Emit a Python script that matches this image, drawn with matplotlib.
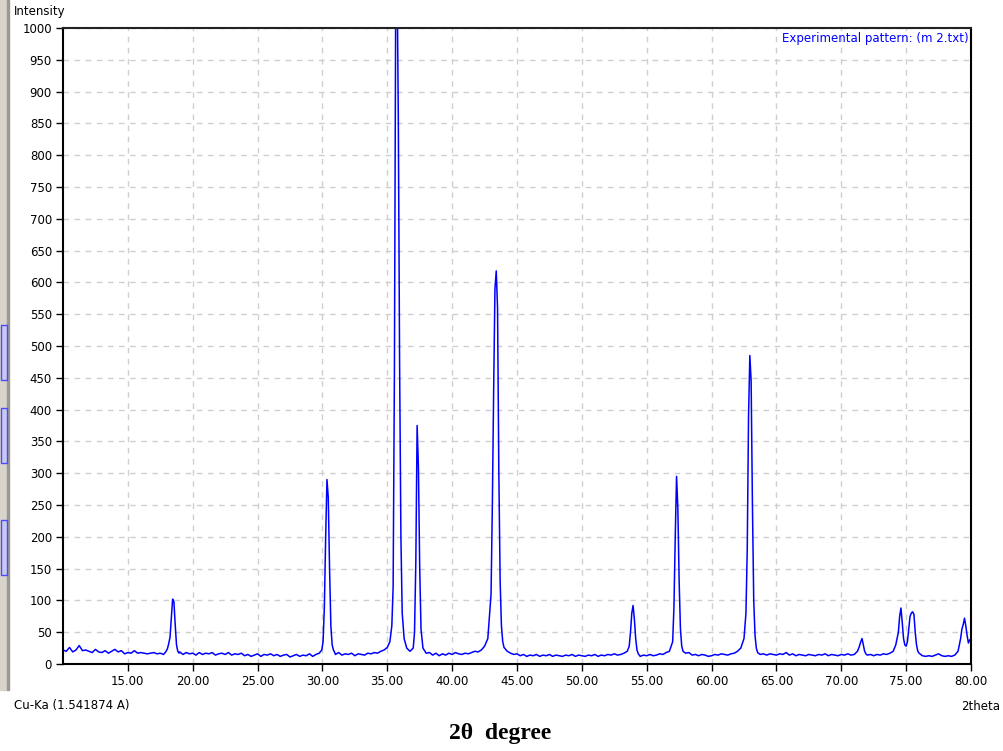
import matplotlib
matplotlib.use("Agg")
import matplotlib.pyplot as plt
from matplotlib.patches import Rectangle
from matplotlib.ticker import MultipleLocator, FormatStrFormatter

two_theta = [
    10.0, 10.25, 10.5, 10.75, 11.0, 11.25, 11.5, 11.75, 12.0, 12.25, 12.5, 12.75,
    13.0, 13.25, 13.5, 13.75, 14.0, 14.25, 14.5, 14.75, 15.0, 15.25, 15.5, 15.75,
    16.0, 16.25, 16.5, 16.75, 17.0, 17.25, 17.5, 17.75,
    17.95, 18.05, 18.15, 18.25, 18.35, 18.45, 18.55, 18.65, 18.75, 18.85, 18.95,
    19.0, 19.25, 19.5, 19.75, 20.0, 20.25, 20.5, 20.75, 21.0, 21.25, 21.5, 21.75,
    22.0, 22.25, 22.5, 22.75, 23.0, 23.25, 23.5, 23.75, 24.0, 24.25, 24.5, 24.75,
    25.0, 25.25, 25.5, 25.75, 26.0, 26.25, 26.5, 26.75, 27.0, 27.25, 27.5, 27.75,
    28.0, 28.25, 28.5, 28.75, 29.0, 29.25, 29.5, 29.75,
    29.95, 30.05, 30.15, 30.25, 30.35, 30.45, 30.55, 30.65, 30.75, 30.85, 30.95,
    31.0, 31.25, 31.5, 31.75, 32.0, 32.25, 32.5, 32.75, 33.0, 33.25, 33.5, 33.75,
    34.0, 34.25, 34.5, 34.75, 35.0,
    35.2, 35.35, 35.45, 35.55, 35.65, 35.75, 35.85, 35.95, 36.05, 36.15, 36.3,
    36.5, 36.75, 37.0,
    37.1, 37.2, 37.3, 37.4, 37.5, 37.6, 37.75, 38.0,
    38.25, 38.5, 38.75, 39.0, 39.25, 39.5, 39.75, 40.0, 40.25, 40.5, 40.75, 41.0,
    41.25, 41.5, 41.75, 42.0, 42.25, 42.5, 42.75, 43.0,
    43.1, 43.2, 43.3, 43.4, 43.5, 43.6, 43.7, 43.8, 43.9, 44.0, 44.25, 44.5,
    44.75, 45.0, 45.25, 45.5, 45.75, 46.0, 46.25, 46.5, 46.75, 47.0, 47.25, 47.5,
    47.75, 48.0, 48.25, 48.5, 48.75, 49.0, 49.25, 49.5, 49.75, 50.0, 50.25, 50.5,
    50.75, 51.0, 51.25, 51.5, 51.75, 52.0, 52.25, 52.5, 52.75, 53.0, 53.25, 53.5,
    53.65, 53.75, 53.85, 53.95, 54.05, 54.15, 54.25, 54.35,
    54.5, 54.75, 55.0, 55.25, 55.5, 55.75, 56.0, 56.25, 56.5, 56.75, 57.0,
    57.1, 57.2, 57.3, 57.4, 57.5, 57.6, 57.7, 57.8, 58.0,
    58.25, 58.5, 58.75, 59.0, 59.25, 59.5, 59.75, 60.0, 60.25, 60.5, 60.75, 61.0,
    61.25, 61.5, 61.75, 62.0, 62.25, 62.5,
    62.65, 62.75, 62.85, 62.95, 63.05, 63.15, 63.25, 63.35, 63.45, 63.55,
    63.75, 64.0, 64.25, 64.5, 64.75, 65.0, 65.25, 65.5, 65.75, 66.0, 66.25, 66.5,
    66.75, 67.0, 67.25, 67.5, 67.75, 68.0, 68.25, 68.5, 68.75, 69.0, 69.25, 69.5,
    69.75, 70.0, 70.25, 70.5, 70.75, 71.0, 71.25,
    71.4, 71.5, 71.6, 71.7, 71.8, 71.9, 72.0,
    72.25, 72.5, 72.75, 73.0, 73.25, 73.5, 73.75, 74.0, 74.2,
    74.4, 74.5, 74.6, 74.7, 74.8, 74.9, 75.0, 75.1, 75.2, 75.3, 75.4, 75.5,
    75.6, 75.7, 75.8, 75.9, 76.0,
    76.25, 76.5, 76.75, 77.0, 77.25, 77.5, 77.75, 78.0, 78.25, 78.5, 78.75, 79.0,
    79.2, 79.3, 79.4, 79.5, 79.6, 79.7, 79.8, 79.9, 80.0,
]
intensity = [
    22, 20, 26, 19, 22, 29, 21, 22, 20, 18, 23, 19,
    18, 21, 17, 20, 23, 19, 21, 16, 18, 17, 21, 17,
    18, 17, 16, 17, 18, 16, 17, 15,
    20, 24, 32, 42, 72, 102, 98, 62, 30, 20, 17,
    19, 15, 18, 16, 17, 14, 18, 15, 17, 16, 18, 14,
    16, 17, 15, 18, 14, 16, 15, 17, 13, 15, 12, 14,
    16, 12, 15, 14, 16, 13, 15, 12, 14, 15, 11, 13,
    15, 12, 14, 13, 16, 12, 15, 17,
    22, 35, 90, 200, 290, 262, 150, 60, 30, 22, 18,
    15, 18, 14, 16, 15, 17, 13, 16, 15, 14, 17, 16,
    18, 17, 20, 22, 26,
    35, 60, 120, 460, 1050, 1100, 860, 470, 200, 80, 40,
    25, 20, 25,
    50, 160, 375, 310, 150, 55, 25, 17,
    18, 14, 17, 13, 16, 14, 17, 15, 18, 16, 15, 17,
    16, 18, 20, 19, 22, 28, 40, 110,
    250, 430, 590, 618, 560, 300, 130, 60, 35, 26, 20, 17,
    15, 16, 13, 15, 12, 14, 13, 15, 12, 14, 13, 15,
    12, 14, 13, 12, 14, 13, 15, 12, 14, 13, 12, 14,
    13, 15, 12, 14, 13, 15, 14, 16, 14, 15, 17, 20,
    28, 50, 80, 92, 70, 40, 22, 16,
    12, 14, 13, 15, 13, 14, 16, 15, 18, 20, 35,
    90, 200, 295, 245, 130, 55, 28, 20, 17,
    18, 14, 15, 13, 15, 14, 12, 13, 15, 14, 16, 15,
    14, 16, 17, 20, 25, 40,
    80, 180, 390, 485, 445, 250, 100, 45, 25, 18,
    15, 16, 14, 16, 15, 14, 16, 15, 18, 14, 16, 13,
    15, 14, 13, 15, 14, 13, 15, 14, 16, 13, 15, 14,
    13, 15, 14, 16, 14, 15, 20,
    28, 35, 40, 30, 20, 16, 14,
    15, 13, 15, 14, 16, 15, 17, 20, 30,
    50, 75, 88, 65, 40, 30, 28, 35, 55, 75, 80, 82,
    78, 50, 30, 20, 17,
    13, 12, 13, 12, 14, 16, 13, 12, 13, 12, 14, 20,
    40, 55, 62, 72, 60, 45, 33, 38, 35,
]

x_ticks = [15, 20, 25, 30, 35, 40, 45, 50, 55, 60, 65, 70, 75, 80]

fig = plt.figure(figsize=(10.04, 7.51), dpi=100)
ax = fig.add_axes([63 / 1004, 87 / 751, 908 / 1004, 636 / 751])

ax.plot(two_theta, intensity, color=(0, 0, 1), lw=1.1)

ax.set_xlim(10, 80)
ax.set_ylim(0, 1000)
ax.set_xticks(x_ticks)
ax.xaxis.set_major_formatter(FormatStrFormatter("%.2f"))
ax.yaxis.set_major_locator(MultipleLocator(50))
ax.grid(True, color="#cfcfcf", ls=(0, (4, 4)), lw=1)
ax.tick_params(direction="out", length=5, width=1, labelsize=8.5, pad=3, colors="black")
for side in ["left", "bottom", "right", "top"]:
    ax.spines[side].set_linewidth(1.5)
ax.spines["top"].set_color("#222222")

ax.text(0.997, 0.993, "Experimental pattern: (m 2.txt)", transform=ax.transAxes,
        ha="right", va="top", color=(0, 0, 1), fontsize=8.5)

fig.text(14 / 1004, 1 - 12 / 751, "Intensity", ha="left", va="center", fontsize=8.5)
fig.text(14 / 1004, 1 - 706 / 751, "Cu-Ka (1.541874 A)", ha="left", va="center", fontsize=8.5)
fig.text(1000 / 1004, 1 - 706 / 751, "2theta", ha="right", va="center", fontsize=8.5)
fig.text(500 / 1004, 1 - 733 / 751, "2θ  degree", ha="center", va="center",
         fontsize=17, fontweight="bold", family="Liberation Serif")

# window frame strip on the left with the blue markers
fig.patches.append(Rectangle((0, 1 - 690 / 751), 7 / 1004, 690 / 751,
                             transform=fig.transFigure, color="#d8d4cc", zorder=0))
fig.patches.append(Rectangle((7 / 1004, 1 - 690 / 751), 2 / 1004, 690 / 751,
                             transform=fig.transFigure, color="#9a9890", zorder=0))
for y0, y1 in [(325, 380), (408, 463), (520, 575)]:
    fig.patches.append(Rectangle((1 / 1004, 1 - y1 / 751), 6 / 1004, (y1 - y0) / 751,
                                 transform=fig.transFigure, facecolor="#c8c8f0",
                                 edgecolor="#4a4aff", lw=1, zorder=1))

fig.savefig("out.png", dpi=100)
